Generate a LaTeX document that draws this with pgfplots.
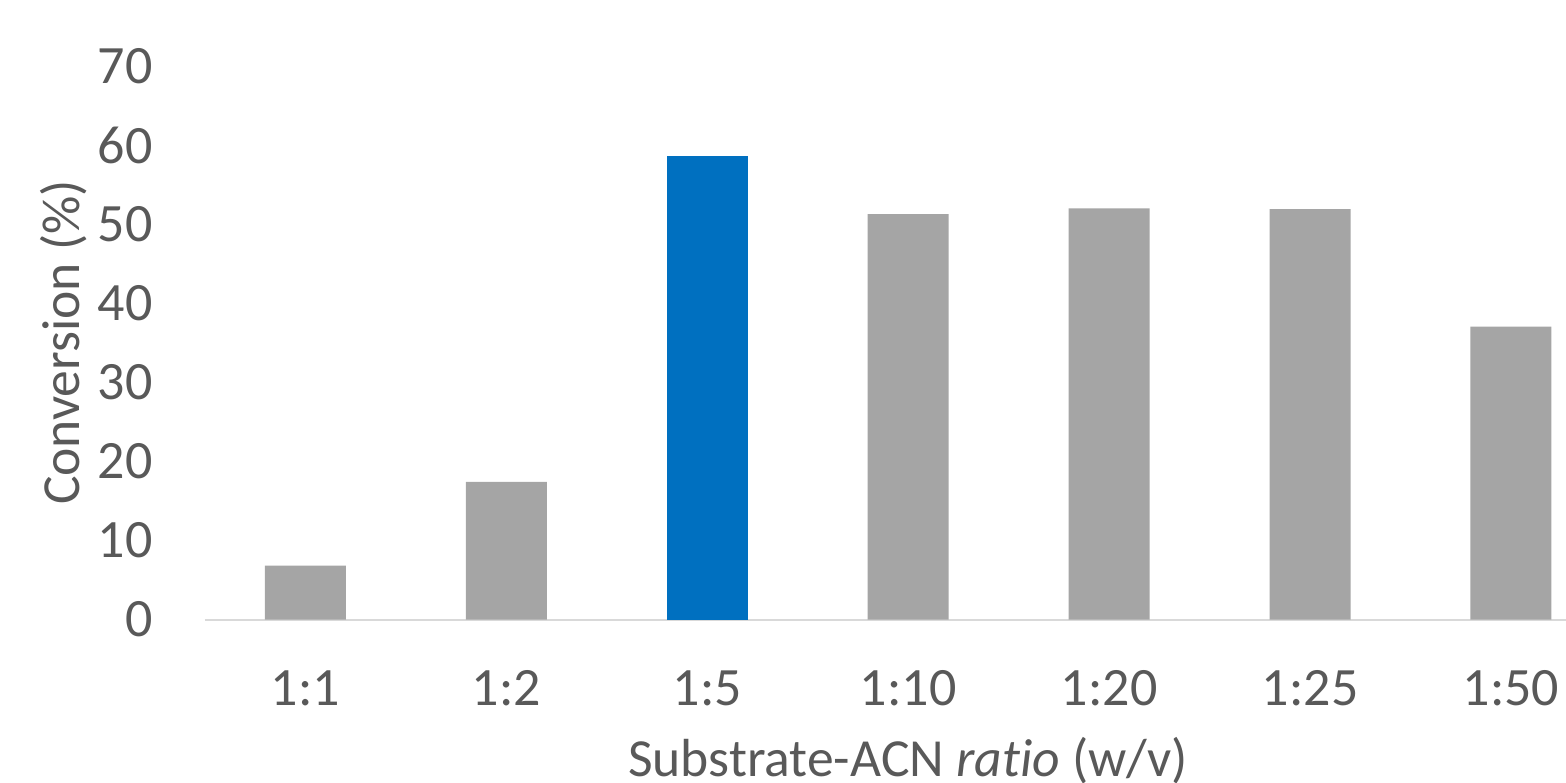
\documentclass[border=0pt]{standalone}
\usepackage{fontspec}
\setmainfont[Ligatures=NoCommon]{Carlito}
\usepackage{pgfplots}
\pgfplotsset{compat=1.18}
\definecolor{bargray}{HTML}{A5A5A5}
\definecolor{barblue}{HTML}{0070C0}
\definecolor{txtgray}{HTML}{595959}
\definecolor{axgray}{HTML}{D9D9D9}

\begin{document}
\begin{tikzpicture}
\useasboundingbox (-102.5pt,-81.25pt) rectangle (680.5pt,309.75pt);
\begin{axis}[
  at={(0,0)}, anchor=south west,
  scale only axis, width=680.5pt, height=276.5pt,
  xmin=-0.5, xmax=6.274, ymin=0, ymax=70,
  ytick={0,10,...,70},
  xtick={0,...,6},
  xticklabels={1:1,1:2,1:5,1:10,1:20,1:25,1:50},
  major tick length=0pt,
  axis x line=bottom, axis y line=left,
  x axis line style={-, draw=axgray, line width=1pt},
  y axis line style={draw=none},
  ybar, bar width=40.5pt, bar shift=0pt,
  tick label style={font=\fontsize{27}{32}\selectfont, text=txtgray},
  yticklabel style={anchor=east, inner sep=0pt, xshift=-26pt},
  xticklabel style={anchor=base, inner sep=0pt, yshift=-42.75pt},
  /pgf/number format/assume math mode=true,
  clip=false,
]
% conversion for each substrate-to-solvent ratio
\addplot[fill=bargray, draw=none] coordinates {(0,6.81) (1,17.41) (3,51.33) (4,52.05) (5,51.96) (6,37.06)};
\addplot[fill=barblue, draw=none] coordinates {(2,58.67)};
\end{axis}
\node[rotate=90, anchor=base, text=txtgray, font=\fontsize{26.8}{32}\selectfont] at (-62.5pt,138.5pt) {Conversion (\%)};
\node[anchor=base, text=txtgray, font=\fontsize{26.8}{32}\selectfont] at (351.5pt,-78.25pt) {Substrate-ACN \textit{ratio} (w/v)};
\end{tikzpicture}
\end{document}
